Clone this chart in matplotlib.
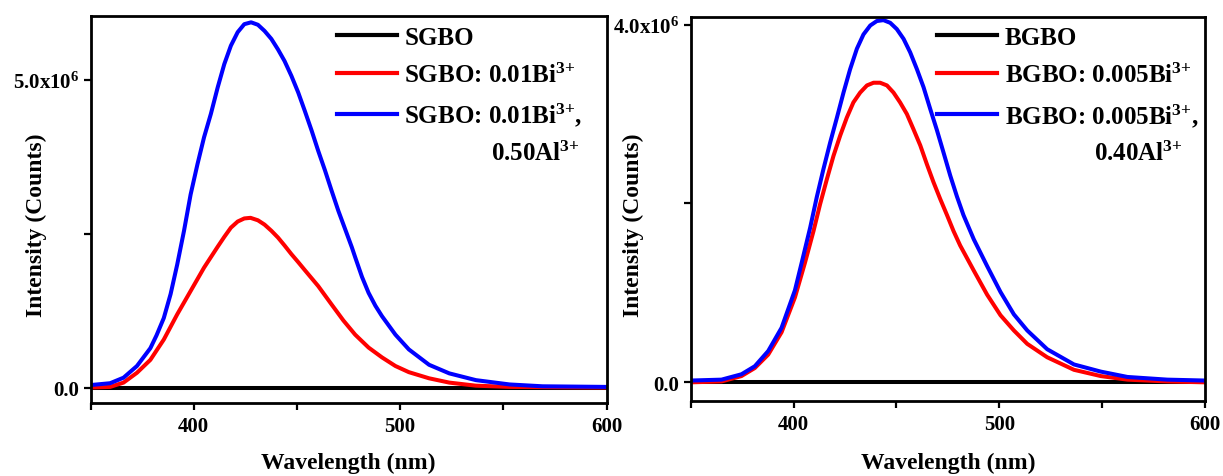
import matplotlib
matplotlib.use("Agg")
import matplotlib.pyplot as plt

plt.rcParams['font.family'] = ['Liberation Serif', 'DejaVu Serif']
plt.rcParams['font.weight'] = 'bold'
plt.rcParams['mathtext.fontset'] = 'custom'
plt.rcParams['mathtext.rm'] = 'Liberation Serif:bold'
plt.rcParams['mathtext.bf'] = 'Liberation Serif:bold'
plt.rcParams['mathtext.it'] = 'Liberation Serif:bold:italic'
plt.rcParams['mathtext.default'] = 'rm'

# ---------------- data (intensity in units of 1e6 counts) ----------------
# Left panel: SGBO
sgbo_wl = [350, 400, 450, 500, 550, 600]
sgbo_int = [0.0, 0.0, 0.0, 0.0, 0.0, 0.0]

sgbo_bi_wl = [350, 359.5, 366, 372.5, 379, 385.5, 392, 398.5, 405, 408.3, 411.6, 414.8,
              418, 421.3, 424.5, 427.5, 431.1, 434.3, 437.6, 440.8, 444, 447.3, 450.6,
              453.8, 460.3, 466.8, 472.5, 478.2, 484.7, 491.2, 497.7, 504.2, 514,
              523.8, 536.7, 553, 600]
sgbo_bi_int = [0.0, 0.01, 0.08, 0.24, 0.45, 0.78, 1.19, 1.57, 1.95, 2.12, 2.29, 2.45,
               2.60, 2.70, 2.75, 2.76, 2.72, 2.65, 2.55, 2.44, 2.31, 2.17, 2.04,
               1.91, 1.65, 1.35, 1.09, 0.86, 0.65, 0.49, 0.35, 0.25, 0.15,
               0.08, 0.03, 0.01, 0.0]

sgbo_bial_wl = [350, 359.5, 366, 372.5, 379, 382, 385.5, 388.8, 392, 395.3, 398.5, 401.8,
                405, 408.3, 411.6, 414.8, 418, 421.3, 424.5, 427.8, 431.1, 434.3, 437.6,
                440.8, 444, 447.3, 450.6, 453.8, 457.1, 460.3, 463.6, 466.8, 470.1,
                473.3, 476.6, 478.2, 481.5, 484.7, 488, 491.2, 497.7, 504.2, 514, 523.8,
                536.7, 553, 569, 600]
sgbo_bial_int = [0.04, 0.07, 0.16, 0.35, 0.64, 0.85, 1.13, 1.52, 2.0, 2.55, 3.14, 3.63,
                 4.07, 4.45, 4.88, 5.26, 5.56, 5.78, 5.91, 5.94, 5.90, 5.80, 5.67,
                 5.50, 5.31, 5.07, 4.80, 4.50, 4.18, 3.85, 3.53, 3.20, 2.87,
                 2.58, 2.28, 2.12, 1.80, 1.54, 1.33, 1.16, 0.86, 0.62, 0.37, 0.23,
                 0.12, 0.05, 0.02, 0.01]

# Right panel: BGBO
bgbo_wl = [350, 400, 450, 500, 550, 600]
bgbo_int = [0.0, 0.0, 0.0, 0.0, 0.0, 0.0]

bgbo_bi_wl = [350, 365, 374.7, 381.2, 387.7, 394.2, 400.7, 405.6, 409.7, 412.9, 416.2,
              419.4, 422.7, 425.9, 429.1, 432.4, 435.7, 438.9, 442.1, 445.4, 448.6,
              451.8, 455.1, 458.3, 461.6, 464.8, 468, 471.3, 474.6, 477.8, 481,
              484.3, 487.6, 494.1, 500.6, 507.1, 513.6, 523.3, 536.3, 549.3, 562.3,
              581.7, 600]
bgbo_bi_int = [0.0, 0.01, 0.07, 0.16, 0.31, 0.56, 0.95, 1.34, 1.69, 1.99, 2.27,
               2.53, 2.76, 2.96, 3.13, 3.24, 3.32, 3.35, 3.35, 3.32, 3.24,
               3.13, 3.00, 2.83, 2.65, 2.44, 2.24, 2.05, 1.87, 1.69, 1.53,
               1.39, 1.25, 0.98, 0.75, 0.58, 0.43, 0.28, 0.14, 0.07, 0.03,
               0.01, 0.0]

bgbo_bial_wl = [350, 365, 374.7, 381.2, 387.7, 394.2, 400.7, 404, 408.1, 411.3, 414.5,
                417.8, 421.1, 424.3, 427.5, 430.8, 434, 437.3, 440.5, 443.7, 447,
                450.2, 453.5, 456.7, 460, 463.2, 466.4, 469.7, 472.9, 476.2, 479.4,
                482.6, 487.6, 494.1, 500.6, 507.1, 513.6, 523.3, 536.3, 549.3, 562.3,
                581.7, 600]
bgbo_bial_int = [0.02, 0.03, 0.09, 0.18, 0.35, 0.61, 1.03, 1.34, 1.73, 2.07, 2.38,
                 2.68, 2.96, 3.24, 3.50, 3.73, 3.89, 3.99, 4.04, 4.05, 4.02,
                 3.95, 3.84, 3.69, 3.50, 3.30, 3.06, 2.82, 2.57, 2.31, 2.08,
                 1.87, 1.60, 1.30, 1.01, 0.76, 0.58, 0.37, 0.20, 0.12, 0.06,
                 0.03, 0.02]

left_labels = ['SGBO', 'SGBO: 0.01Bi$^{3{+}}$', 'SGBO: 0.01Bi$^{3{+}}$,']
left_extra = '0.50Al$^{3{+}}$'
right_labels = ['BGBO', 'BGBO: 0.005Bi$^{3{+}}$', 'BGBO: 0.005Bi$^{3{+}}$,']
right_extra = '0.40Al$^{3{+}}$'

x_major = [400, 500, 600]
x_minor = [350, 450, 550]
left_yticks = [0, 2.5e6, 5e6]
left_yticklabels = ['0.0', '', '5.0x10$^{6}$']
right_yticks = [0, 2e6, 4e6]
right_yticklabels = ['0.0', '', '4.0x10$^{6}$']

colors = ['black', '#ff0000', '#0000ff']
SCALE = 1e6

# ---------------- figure ----------------
fig = plt.figure(figsize=(12.23, 4.77), dpi=100)
axL = fig.add_axes([0.0740, 0.1530, 0.4220, 0.8110])
axR = fig.add_axes([0.5647, 0.1572, 0.4206, 0.8060])


def style(ax, yticks, yticklabels, ylim, label_x, label_y, ylab_pos):
    ax.set_xlim(350, 600)
    ax.set_ylim(*ylim)
    ax.set_xticks(x_major)
    ax.set_xticks(x_minor, minor=True)
    ax.set_yticks(yticks)
    ax.set_yticklabels(yticklabels)
    ax.tick_params(axis='both', which='both', direction='out', width=1.6,
                   top=False, right=False, labelsize=15)
    ax.tick_params(axis='both', which='major', length=5)
    ax.tick_params(axis='x', which='minor', length=5)
    ax.tick_params(axis='x', which='major', pad=4)
    ax.tick_params(axis='y', which='major', pad=3)
    for lab in ax.get_xticklabels() + ax.get_yticklabels():
        lab.set_fontweight('bold')
    for sp in ax.spines.values():
        sp.set_linewidth(2.0)
    ax.set_xlabel('Wavelength (nm)', fontsize=17, fontweight='bold')
    ax.set_ylabel('Intensity (Counts)', fontsize=17, fontweight='bold')
    ax.xaxis.set_label_coords(0.5, label_x)
    ax.yaxis.set_label_coords(label_y, ylab_pos)


def legend(ax, labels, extra, anchor, right_shift):
    leg = ax.legend(labels, loc='upper left', bbox_to_anchor=anchor, frameon=False,
                    fontsize=18, handlelength=2.4, handletextpad=0.3,
                    labelspacing=0.55, borderaxespad=0, borderpad=0)
    for line in leg.get_lines():
        line.set_linewidth(3.0)
    fig.canvas.draw()
    t = leg.get_texts()[2]
    bb = t.get_window_extent(fig.canvas.get_renderer())
    inv = ax.transAxes.inverted()
    x1, y1 = inv.transform([bb.x1 - right_shift, bb.y1 - 40])
    ax.text(x1, y1, extra, transform=ax.transAxes, ha='right', va='top',
            fontsize=18, fontweight='bold')


# left
axL.plot(sgbo_wl, [v * SCALE for v in sgbo_int], color=colors[0], lw=2.9)
axL.plot(sgbo_bi_wl, [v * SCALE for v in sgbo_bi_int], color=colors[1], lw=2.9)
axL.plot(sgbo_bial_wl, [v * SCALE for v in sgbo_bial_int], color=colors[2], lw=2.9)
style(axL, left_yticks, left_yticklabels, (-0.252e6, 6.04e6), -0.127, -0.0845, 0.463)

# right
axR.plot(bgbo_wl, [v * SCALE for v in bgbo_int], color=colors[0], lw=2.9)
axR.plot(bgbo_bi_wl, [v * SCALE for v in bgbo_bi_int], color=colors[1], lw=2.9)
axR.plot(bgbo_bial_wl, [v * SCALE for v in bgbo_bial_int], color=colors[2], lw=2.9)
style(axR, right_yticks, right_yticklabels, (-0.209e6, 4.09e6), -0.133, -0.0906, 0.46)

legend(axL, left_labels, left_extra, (0.477, 0.975), 3)
legend(axR, right_labels, right_extra, (0.479, 0.975), 15)

fig.savefig('out.png', dpi=100)
